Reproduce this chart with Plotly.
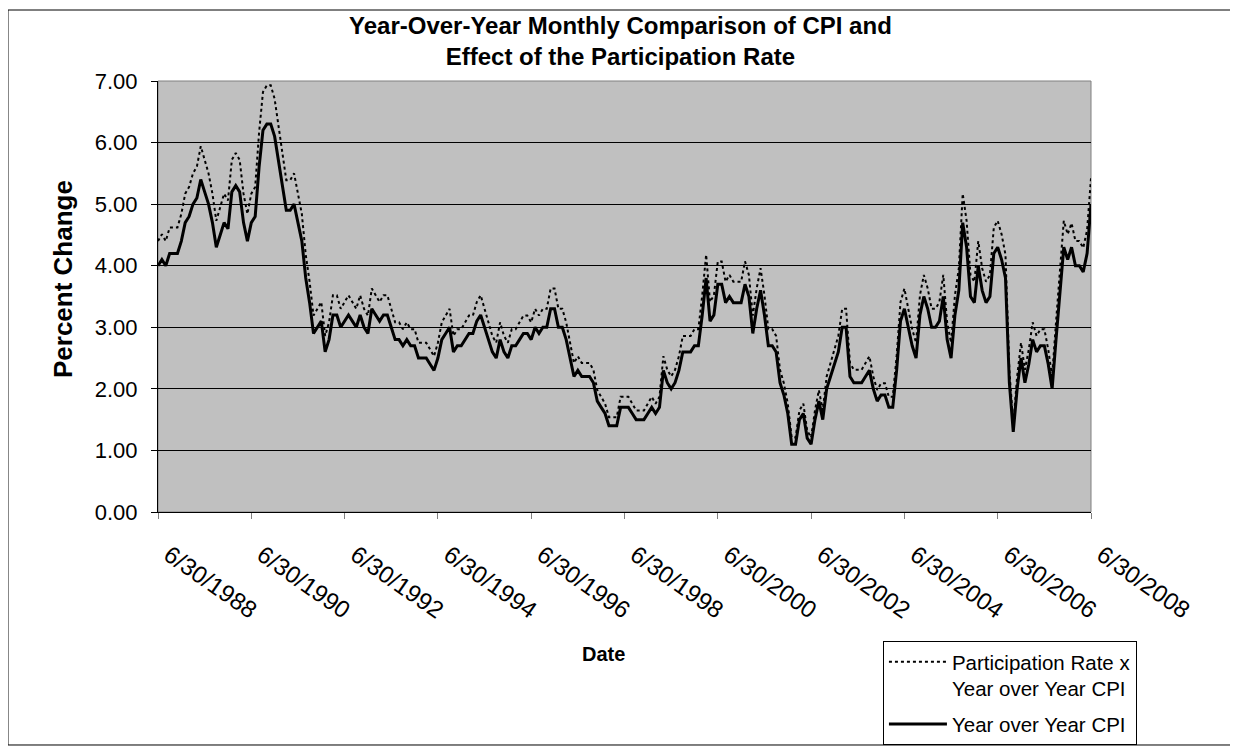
import calendar
import plotly.graph_objects as go

# ---- data (monthly, 6/30/1988 .. 6/30/2008) ----
years_months = [(1988, m) for m in range(6, 13)] + \
               [(y, m) for y in range(1989, 2008) for m in range(1, 13)] + \
               [(2008, m) for m in range(1, 7)]
dates = [f"{m}/{calendar.monthrange(y, m)[1]}/{y}" for (y, m) in years_months]

cpi_yoy = [
    4.0, 4.1, 4.0, 4.2, 4.2, 4.2, 4.4,
    4.7, 4.8, 5.0, 5.1, 5.4, 5.2, 5.0, 4.7, 4.3, 4.5, 4.7, 4.6,
    5.2, 5.3, 5.2, 4.7, 4.4, 4.7, 4.8, 5.6, 6.2, 6.3, 6.3, 6.1,
    5.7, 5.3, 4.9, 4.9, 5.0, 4.7, 4.4, 3.8, 3.4, 2.9, 3.0, 3.1,
    2.6, 2.8, 3.2, 3.2, 3.0, 3.1, 3.2, 3.1, 3.0, 3.2, 3.0, 2.9,
    3.3, 3.2, 3.1, 3.2, 3.2, 3.0, 2.8, 2.8, 2.7, 2.8, 2.7, 2.7,
    2.5, 2.5, 2.5, 2.4, 2.3, 2.5, 2.8, 2.9, 3.0, 2.6, 2.7, 2.7,
    2.8, 2.9, 2.9, 3.1, 3.2, 3.0, 2.8, 2.6, 2.5, 2.8, 2.6, 2.5,
    2.7, 2.7, 2.8, 2.9, 2.9, 2.8, 3.0, 2.9, 3.0, 3.0, 3.3, 3.3,
    3.0, 3.0, 2.8, 2.5, 2.2, 2.3, 2.2, 2.2, 2.2, 2.1, 1.8, 1.7,
    1.6, 1.4, 1.4, 1.4, 1.7, 1.7, 1.7, 1.6, 1.5, 1.5, 1.5, 1.6,
    1.7, 1.6, 1.7, 2.3, 2.1, 2.0, 2.1, 2.3, 2.6, 2.6, 2.6, 2.7,
    2.7, 3.2, 3.8, 3.1, 3.2, 3.7, 3.7, 3.4, 3.5, 3.4, 3.4, 3.4,
    3.7, 3.5, 2.9, 3.3, 3.6, 3.2, 2.7, 2.7, 2.6, 2.1, 1.9, 1.6,
    1.1, 1.1, 1.5, 1.6, 1.2, 1.1, 1.5, 1.8, 1.5, 2.0, 2.2, 2.4,
    2.6, 3.0, 3.0, 2.2, 2.1, 2.1, 2.1, 2.2, 2.3, 2.0, 1.8, 1.9,
    1.9, 1.7, 1.7, 2.3, 3.1, 3.3, 3.0, 2.7, 2.5, 3.2, 3.5, 3.3,
    3.0, 3.0, 3.1, 3.5, 2.8, 2.5, 3.2, 3.6, 4.7, 4.3, 3.5, 3.4,
    4.0, 3.6, 3.4, 3.5, 4.2, 4.3, 4.1, 3.8, 2.1, 1.3, 2.0, 2.5,
    2.1, 2.4, 2.8, 2.6, 2.7, 2.7, 2.4, 2.0, 2.8, 3.5, 4.3, 4.1,
    4.3, 4.0, 4.0, 3.9, 4.2, 5.0,
]

participation_x_cpi = [
    4.40, 4.51, 4.40, 4.62, 4.62, 4.62, 4.84,
    5.17, 5.28, 5.50, 5.61, 5.94, 5.72, 5.50, 5.17, 4.73, 4.95, 5.17, 5.06,
    5.72, 5.83, 5.72, 5.17, 4.84, 5.17, 5.28, 6.16, 6.82, 6.93, 6.93, 6.71,
    6.27, 5.83, 5.39, 5.39, 5.50, 5.17, 4.84, 4.18, 3.74, 3.19, 3.30, 3.41,
    2.86, 3.08, 3.52, 3.52, 3.30, 3.41, 3.52, 3.41, 3.30, 3.52, 3.30, 3.19,
    3.63, 3.52, 3.41, 3.52, 3.52, 3.30, 3.08, 3.08, 2.97, 3.08, 2.97, 2.97,
    2.75, 2.75, 2.75, 2.64, 2.53, 2.75, 3.08, 3.19, 3.30, 2.86, 2.97, 2.97,
    3.08, 3.19, 3.19, 3.41, 3.52, 3.30, 3.08, 2.86, 2.75, 3.08, 2.86, 2.75,
    2.97, 2.97, 3.08, 3.19, 3.19, 3.08, 3.30, 3.19, 3.30, 3.30, 3.63, 3.63,
    3.30, 3.30, 3.08, 2.75, 2.42, 2.53, 2.42, 2.42, 2.42, 2.31, 1.98, 1.87,
    1.76, 1.54, 1.54, 1.54, 1.87, 1.87, 1.87, 1.76, 1.65, 1.65, 1.65, 1.76,
    1.87, 1.76, 1.87, 2.53, 2.31, 2.20, 2.31, 2.53, 2.86, 2.86, 2.86, 2.97,
    2.97, 3.52, 4.18, 3.41, 3.52, 4.07, 4.07, 3.74, 3.85, 3.74, 3.74, 3.74,
    4.07, 3.85, 3.19, 3.63, 3.96, 3.52, 2.97, 2.97, 2.86, 2.31, 2.09, 1.76,
    1.21, 1.21, 1.65, 1.76, 1.32, 1.21, 1.65, 1.98, 1.65, 2.20, 2.42, 2.64,
    2.86, 3.30, 3.30, 2.42, 2.31, 2.31, 2.31, 2.42, 2.53, 2.20, 1.98, 2.09,
    2.09, 1.87, 1.87, 2.53, 3.41, 3.63, 3.30, 2.97, 2.75, 3.52, 3.85, 3.63,
    3.30, 3.30, 3.41, 3.85, 3.08, 2.75, 3.52, 3.96, 5.17, 4.73, 3.85, 3.74,
    4.40, 3.96, 3.74, 3.85, 4.62, 4.73, 4.51, 4.18, 2.31, 1.43, 2.20, 2.75,
    2.31, 2.64, 3.08, 2.86, 2.97, 2.97, 2.64, 2.20, 3.08, 3.85, 4.73, 4.51,
    4.69, 4.40, 4.40, 4.29, 4.58, 5.42,
]

tick_labels = ["6/30/1988", "6/30/1990", "6/30/1992", "6/30/1994", "6/30/1996",
               "6/30/1998", "6/30/2000", "6/30/2002", "6/30/2004", "6/30/2006",
               "6/30/2008"]
y_ticks = [0, 1, 2, 3, 4, 5, 6, 7]

FONT = "Liberation Sans, Arial, sans-serif"
NBSP = "\u00a0"

fig = go.Figure()
fig.add_trace(go.Scatter(
    x=dates, y=participation_x_cpi, mode="lines",
    name="Participation Rate x<br>Year over Year CPI",
    legendgroup="a",
    line=dict(color="black", width=2, dash="3px,3px"),
))
fig.add_trace(go.Scatter(
    x=dates, y=cpi_yoy, mode="lines",
    name="Year over Year CPI",
    legendgroup="b",
    line=dict(color="black", width=3),
))

fig.update_layout(
    width=1230, height=742,
    margin=dict(l=150, r=147, t=73, b=238, autoexpand=False),
    paper_bgcolor="white",
    plot_bgcolor="#C0C0C0",
    font=dict(family=FONT, color="black"),
    showlegend=True,
    legend=dict(
        x=0.777, y=-0.2993, xanchor="left", yanchor="top",
        bgcolor="white", bordercolor="black", borderwidth=1,
        font=dict(size=20.5, family=FONT, color="black"),
        valign="top", itemwidth=58, tracegroupgap=6,
    ),
    xaxis=dict(
        type="category", range=[0, len(dates) - 1],
        tickmode="array", tickvals=tick_labels,
        ticktext=[NBSP + NBSP + t for t in tick_labels],
        tickangle=35, tickfont=dict(size=24, family=FONT),
        ticks="outside", ticklen=6, tickcolor="#808080",
        showgrid=False, zeroline=False, automargin=False,
        showline=True, linecolor="black", linewidth=1,
        ticklabelstandoff=5,
    ),
    yaxis=dict(
        range=[0, 7], tickvals=y_ticks, tickformat=".2f",
        tickfont=dict(size=22, family=FONT),
        ticks="outside", ticklen=6, tickcolor="black",
        showgrid=True, gridcolor="black", gridwidth=1,
        zeroline=False, automargin=False,
        showline=True, linecolor="black", linewidth=1,
        ticklabelstandoff=9,
    ),
    shapes=[
        dict(type="rect", xref="paper", yref="paper", x0=0, x1=1, y0=0, y1=1,
             line=dict(color="#808080", width=1), layer="below"),
        dict(type="rect", xref="paper", yref="paper",
             x0=-0.1608, x1=1.1501, y0=-0.5406, y1=1.1647,
             line=dict(color="black", width=1)),
    ],
    annotations=[
        dict(text="<b>Year-Over-Year Monthly Comparison of CPI and<br>"
                  "Effect of the Participation Rate</b>",
             xref="paper", yref="paper", x=0.4952, y=1.0928,
             xanchor="center", yanchor="middle", showarrow=False,
             font=dict(size=24, family=FONT)),
        dict(text="<b>Percent Change</b>",
             xref="paper", yref="paper", x=-0.1018, y=0.5406,
             xanchor="center", yanchor="middle", textangle=-90, showarrow=False,
             font=dict(size=26, family=FONT)),
        dict(text="<b>Date</b>",
             xref="paper", yref="paper", x=0.478, y=-0.3295,
             xanchor="center", yanchor="middle", showarrow=False,
             font=dict(size=20, family=FONT)),
    ],
)

fig.write_html("out.html")
